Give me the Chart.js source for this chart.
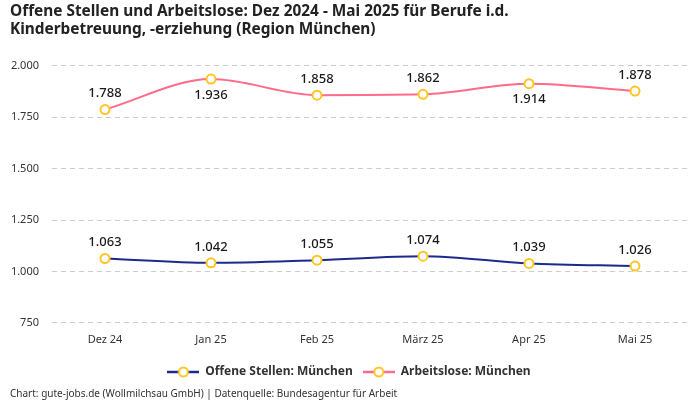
<!DOCTYPE html>
<html>
<head>
<meta charset="utf-8">
<script src="https://cdn.jsdelivr.net/npm/chart.js@4/dist/chart.umd.min.js"></script>
<style>
  html, body { margin: 0; padding: 0; background: #fff; }
  #wrap { width: 700px; height: 400px; position: relative; }
</style>
</head>
<body>
<div id="wrap"><canvas id="myChart"></canvas></div>
<script>
"use strict";

/* ****************************************************************************
    DATA
**************************************************************************** */
var months = ["Dez 24", "Jan 25", "Feb 25", "März 25", "Apr 25", "Mai 25"];
var offeneStellen = [1063, 1042, 1055, 1074, 1039, 1026];
var arbeitslose = [1788, 1936, 1858, 1862, 1914, 1878];
// where the value label sits for each point: "top" or "bottom"
var stellenLabelPos = ["top", "top", "top", "top", "top", "top"];
var arbeitsloseLabelPos = ["top", "bottom", "top", "top", "bottom", "top"];

var blue = "#1b2a8c";
var pink = "#ff6b88";
var yellow = "#ffc525";
var fontName = "'Noto Sans', Roboto, sans-serif";

/**
 * Format a number with a dot as thousands separator.
 */
function formatDE(n) {
  return String(Math.round(n)).replace(/\B(?=(\d{3})+(?!\d))/g, ".");
}

/**
 * Small canvas with a line and a ring, used as legend symbol.
 */
function legendSymbol(color) {
  let c = document.createElement("canvas");
  c.width = 32;
  c.height = 14;
  let ctx = c.getContext("2d");
  ctx.strokeStyle = color;
  ctx.lineWidth = 2.5;
  ctx.beginPath();
  ctx.moveTo(0, 7);
  ctx.lineTo(32, 7);
  ctx.stroke();
  ctx.beginPath();
  ctx.arc(16, 7, 4.5, 0, Math.PI * 2);
  ctx.fillStyle = "#fff";
  ctx.fill();
  ctx.strokeStyle = yellow;
  ctx.lineWidth = 2;
  ctx.stroke();
  return c;
}

// draws the value above or below every point
const valueLabels = {
  id: "valueLabels",
  afterDatasetsDraw(chart) {
    const ctx = chart.ctx;
    ctx.save();
    ctx.font = "500 13px " + fontName;
    ctx.fillStyle = "#1a1a1a";
    ctx.textAlign = "center";
    ctx.textBaseline = "middle";
    chart.data.datasets.forEach(function (ds, i) {
      const meta = chart.getDatasetMeta(i);
      meta.data.forEach(function (pt, j) {
        const pos = ds.labelPos[j];
        const y = pos === "top" ? pt.y - 16 : pt.y + 16;
        ctx.fillText(formatDE(ds.data[j]), pt.x, y);
      });
    });
    ctx.restore();
  },
};

const data = {
  labels: months,
  datasets: [
    {
      label: "Offene Stellen: München",
      data: offeneStellen,
      labelPos: stellenLabelPos,
      borderColor: blue,
      backgroundColor: blue,
      borderWidth: 2,
      pointBackgroundColor: "#fff",
      pointBorderColor: yellow,
      pointBorderWidth: 2,
      pointRadius: 4.5,
      cubicInterpolationMode: "monotone",
      legendImg: legendSymbol(blue),
    },
    {
      label: "Arbeitslose: München",
      data: arbeitslose,
      labelPos: arbeitsloseLabelPos,
      borderColor: pink,
      backgroundColor: pink,
      borderWidth: 2,
      pointBackgroundColor: "#fff",
      pointBorderColor: yellow,
      pointBorderWidth: 2,
      pointRadius: 4.5,
      cubicInterpolationMode: "monotone",
      legendImg: legendSymbol(pink),
    },
  ],
};

const config = {
  type: "line",
  data: data,
  plugins: [valueLabels],
  options: {
    responsive: true,
    maintainAspectRatio: false,
    animation: false,
    layout: { padding: { left: 10, right: 12, top: 2, bottom: 0 } },
    scales: {
      x: {
        offset: true,
        grid: { display: false, drawTicks: false },
        border: { display: false },
        ticks: { color: "#333", font: { family: fontName, size: 11 }, padding: 10 },
      },
      y: {
        min: 750,
        max: 2000,
        afterFit: function (scale) {
          scale.width = 42;
        },
        ticks: {
          stepSize: 250,
          color: "#333",
          font: { family: fontName, size: 11 },
          padding: 13,
          callback: function (v) { return formatDE(v); },
        },
        grid: { color: "#cccccc", drawTicks: false },
        border: { display: false, dash: [5, 4] },
      },
    },
    plugins: {
      tooltip: { enabled: false },
      title: {
        display: true,
        align: "start",
        text: [
          "Offene Stellen und Arbeitslose: Dez 2024 - Mai 2025 für Berufe i.d.",
          "Kinderbetreuung, -erziehung (Region München)",
        ],
        color: "#222",
        font: { family: fontName, size: 15.4, weight: "bold", lineHeight: 1.2 },
        padding: { top: 0, bottom: 27 },
      },
      legend: {
        position: "bottom",
        labels: {
          usePointStyle: true,
          pointStyleWidth: 32,
          color: "#333",
          padding: 10,
          font: { family: fontName, size: 12, weight: "bold" },
          generateLabels: function (chart) {
            return chart.data.datasets.map(function (ds, i) {
              return {
                text: ds.label,
                pointStyle: ds.legendImg,
                fillStyle: ds.borderColor,
                strokeStyle: ds.borderColor,
                lineWidth: 0,
                hidden: false,
                datasetIndex: i,
                fontColor: "#333",
              };
            });
          },
        },
      },
      subtitle: {
        display: true,
        position: "bottom",
        align: "start",
        text: "Chart: gute-jobs.de (Wollmilchsau GmbH) | Datenquelle: Bundesagentur für Arbeit",
        color: "#333",
        font: { family: fontName, size: 10 },
        padding: { top: 0, bottom: 0 },
      },
    },
  },
};

new Chart(document.getElementById("myChart"), config);
</script>
</body>
</html>
